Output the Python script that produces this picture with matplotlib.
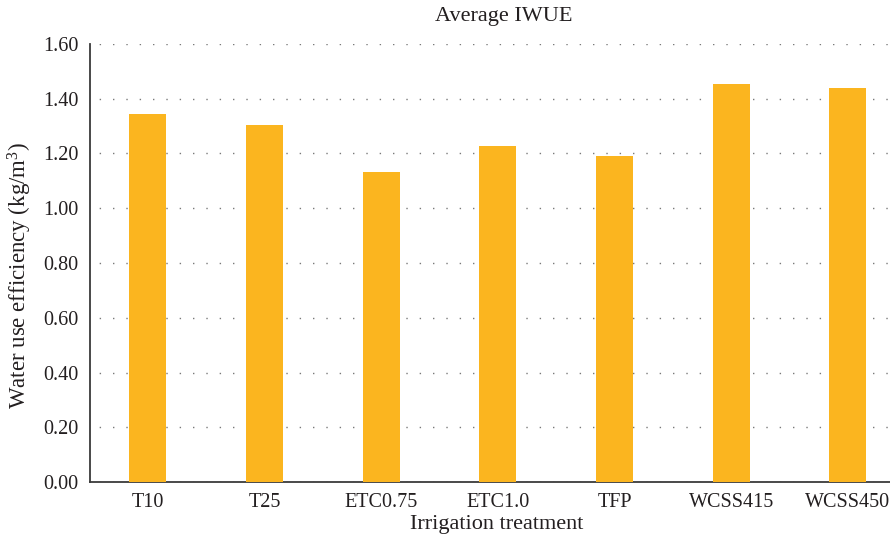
import matplotlib.pyplot as plt
import numpy as np

plt.rcParams["font.family"] = ["Liberation Serif", "DejaVu Serif"]
plt.rcParams["mathtext.fontset"] = "custom"
plt.rcParams["mathtext.rm"] = "Liberation Serif"
plt.rcParams["mathtext.it"] = "Liberation Serif:italic"

# Average irrigation water use efficiency per treatment
treatments = ["T10", "T25", "ETC0.75", "ETC1.0", "TFP", "WCSS415", "WCSS450"]
iwue = [1.343, 1.303, 1.132, 1.227, 1.191, 1.453, 1.438]
yticks = [0.0, 0.2, 0.4, 0.6, 0.8, 1.0, 1.2, 1.4, 1.6]

BAR_COLOR = "#FBB51F"
TEXT_COLOR = "#231F20"
SPINE_COLOR = "#3A3A3A"

fig = plt.figure(figsize=(8.9, 5.41), dpi=100)
# axes run slightly past the right edge, as in the original crop
ax = fig.add_axes([89.5 / 890, 1 - 482.3 / 541, 816.7 / 890, 438.6 / 541])

x = np.arange(len(treatments))
ax.bar(x, iwue, width=0.317, color=BAR_COLOR, zorder=3)

ax.set_xlim(-0.5, 6.5)
ax.set_ylim(0.0, 1.6)
ax.set_yticks(yticks)
ax.set_yticklabels([f"{v:.2f}" for v in yticks])
ax.set_xticks(x)
ax.set_xticklabels(treatments)

ax.yaxis.grid(True, color="#7a7a7a", linewidth=1.0, linestyle=(3, (1, 8.6)), zorder=0)
ax.xaxis.grid(False)
ax.tick_params(axis="both", length=0, labelsize=14.5, colors=TEXT_COLOR, pad=8)
ax.tick_params(axis="x", pad=8)

for side in ("top", "right"):
    ax.spines[side].set_visible(False)
for side in ("left", "bottom"):
    ax.spines[side].set_color(SPINE_COLOR)
    ax.spines[side].set_linewidth(1.3)

fig.text(504 / 890, 1 - 17 / 541, "Average IWUE", ha="center", va="center",
         fontsize=16, color=TEXT_COLOR)
fig.text(497 / 890, 1 - 524 / 541, "Irrigation treatment", ha="center", va="center",
         fontsize=16, color=TEXT_COLOR)
fig.text(20 / 890, 1 - 276 / 541, "Water use efficiency (kg/m$^\\mathrm{3}$)", ha="center",
         va="center", rotation=90, fontsize=16.5, color=TEXT_COLOR)

fig.savefig("out.png", dpi=100)
